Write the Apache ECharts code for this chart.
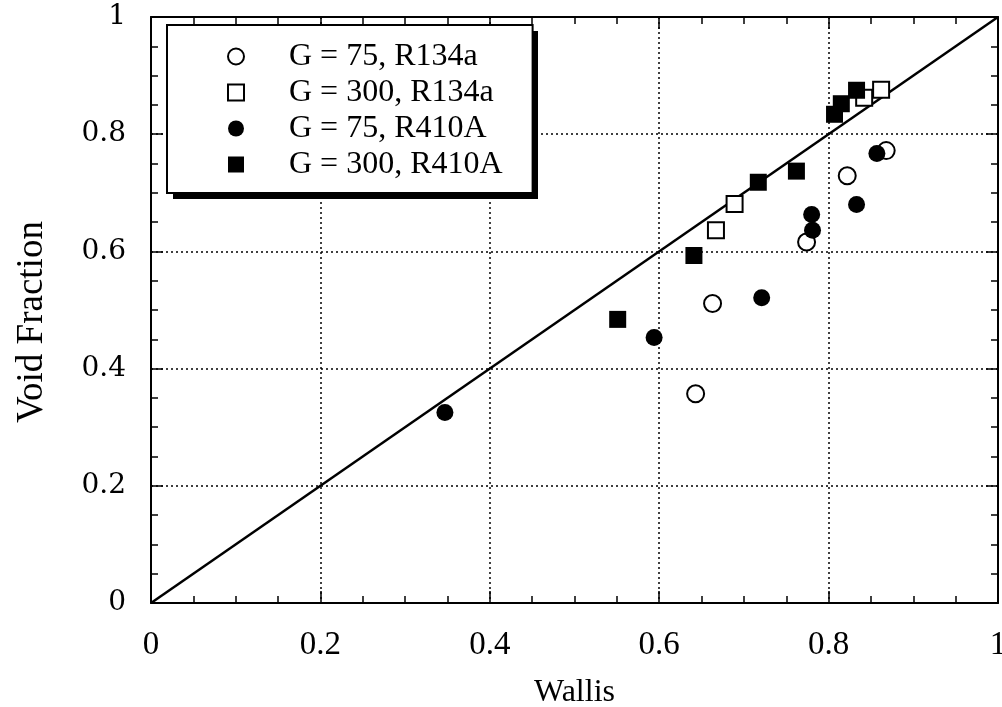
<!DOCTYPE html>
<html>
<head>
<meta charset="utf-8">
<script src="https://cdn.jsdelivr.net/npm/echarts@6/dist/echarts.min.js"></script>
<style>
html,body{margin:0;padding:0;background:#fff;}
#chart{width:1002px;height:707px;}
</style>
</head>
<body>
<div id="chart"></div>
<script>
var seriesNames = ['G = 75, R134a', 'G = 300, R134a', 'G = 75, R410A', 'G = 300, R410A'];
var g75R134a = [[0.643,0.357],[0.663,0.511],[0.774,0.616],[0.822,0.729],[0.868,0.772]];
var g300R134a = [[0.667,0.636],[0.689,0.681],[0.842,0.862],[0.862,0.876]];
var g75R410A = [[0.347,0.325],[0.594,0.453],[0.721,0.521],[0.780,0.663],[0.781,0.636],[0.833,0.680],[0.857,0.767]];
var g300R410A = [[0.551,0.484],[0.641,0.593],[0.717,0.718],[0.762,0.737],[0.807,0.834],[0.815,0.852],[0.833,0.875]];
var diagonal = [[0,0],[1,1]];
var xTicks = [0, 0.2, 0.4, 0.6, 0.8, 1];
var yTicks = [0, 0.2, 0.4, 0.6, 0.8, 1];

var chart = echarts.init(document.getElementById('chart'), null, {renderer: 'canvas'});

function fmt(v) { return String(Math.round(v * 10) / 10); }

var axisCommon = {
  min: 0, max: 1, interval: 0.2,
  axisLine: {show: true, onZero: false, lineStyle: {color: '#000', width: 2}},
  axisTick: {show: true, inside: true, length: 12, lineStyle: {color: '#000', width: 1.5}},
  minorTick: {show: true, splitNumber: 4, length: 7, lineStyle: {color: '#000', width: 1.5}}
};

var openStyle = {color: '#fff', borderColor: '#000', borderWidth: 2, opacity: 1};
var fillStyle = {color: '#000', borderColor: '#000', borderWidth: 0, opacity: 1};

chart.setOption({
  animation: false,
  backgroundColor: '#fff',
  grid: {left: 151, right: 4, top: 17, bottom: 104, containLabel: false, outerBoundsMode: 'none'},
  graphic: [{
    type: 'rect', z: 5, silent: true,
    shape: {x: 173, y: 31, width: 365, height: 168},
    style: {fill: '#000'}
  }],
  legend: {
    z: 6,
    orient: 'vertical',
    left: 167, top: 25,
    backgroundColor: '#fff',
    borderColor: '#000', borderWidth: 2,
    padding: [15, 30, 12, 60],
    itemWidth: 16, itemHeight: 16, itemGap: 3,
    data: seriesNames,
    formatter: function (n) { return '{s|}' + n; },
    textStyle: {
      fontFamily: 'Liberation Serif', fontSize: 32, color: '#000', lineHeight: 33,
      rich: {s: {width: 40}}
    }
  },
  xAxis: [
    Object.assign({}, axisCommon, {
      type: 'value', position: 'bottom',
      name: 'Wallis', nameLocation: 'middle', nameGap: 74,
      nameTextStyle: {fontFamily: 'Liberation Serif', fontSize: 32, color: '#000'},
      axisLabel: {show: true, margin: 26, fontFamily: 'Liberation Serif', fontSize: 33, color: '#000',
        formatter: function (v) { return xTicks.indexOf(Math.round(v*10)/10) >= 0 ? fmt(v) : ''; }},
      splitLine: {show: true, lineStyle: {color: '#000', width: 1.5, type: [2, 3]}}
    }),
    Object.assign({}, axisCommon, {
      type: 'value', position: 'top',
      axisLabel: {show: false}, splitLine: {show: false}
    })
  ],
  yAxis: [
    Object.assign({}, axisCommon, {
      type: 'value', position: 'left',
      name: 'Void Fraction', nameLocation: 'middle', nameGap: 100, nameRotate: 90,
      nameTextStyle: {fontFamily: 'Liberation Serif', fontSize: 37, color: '#000', padding: [0, 24, 0, 0]},
      axisLabel: {show: true, margin: 25, fontFamily: 'DejaVu Serif', fontSize: 28, color: '#000',
        formatter: function (v) { return yTicks.indexOf(Math.round(v*10)/10) >= 0 ? fmt(v) : ''; }},
      splitLine: {show: true, lineStyle: {color: '#000', width: 1.5, type: [2, 3]}}
    }),
    Object.assign({}, axisCommon, {
      type: 'value', position: 'right',
      axisLabel: {show: false}, splitLine: {show: false}
    })
  ],
  series: [
    {
      type: 'line', name: 'diag', data: diagonal, showSymbol: false, symbol: 'none',
      silent: true, lineStyle: {color: '#000', width: 2.5}, z: 2
    },
    {type: 'scatter', name: seriesNames[0], data: g75R134a, symbol: 'circle', symbolSize: 17, itemStyle: openStyle, z: 3},
    {type: 'scatter', name: seriesNames[1], data: g300R134a, symbol: 'rect', symbolSize: 16, itemStyle: openStyle, z: 3},
    {type: 'scatter', name: seriesNames[2], data: g75R410A, symbol: 'circle', symbolSize: 17, itemStyle: fillStyle, z: 4},
    {type: 'scatter', name: seriesNames[3], data: g300R410A, symbol: 'rect', symbolSize: 17, itemStyle: fillStyle, z: 4}
  ]
});
</script>
</body>
</html>
